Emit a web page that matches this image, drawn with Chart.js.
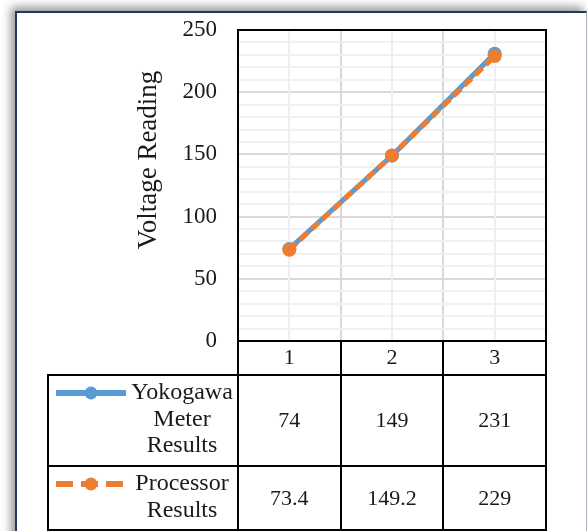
<!DOCTYPE html>
<html>
<head>
<meta charset="utf-8">
<script src="https://cdn.jsdelivr.net/npm/chart.js@4.4.1/dist/chart.umd.min.js"></script>
<style>
  html, body { margin: 0; padding: 0; background: #fff; width: 587px; height: 531px; overflow: hidden; }
  #frame {
    position: absolute; left: 15px; top: 11px; width: 572px; height: 540px;
    box-sizing: border-box; background: #fff;
    border: 2px solid #1f3864; border-right: 1px solid #a9b3c6;
    box-shadow: -4px -4px 9px rgba(0,0,0,0.42);
  }
  #c { position: absolute; left: 0; top: 0; }
</style>
</head>
<body>
<div id="frame"></div>
<canvas id="c" width="587" height="531"></canvas>
<script>
// Readings for three test points
const categories = ['1', '2', '3'];
const yokogawaValues = [74, 149, 231];
const processorValues = [73.4, 149.2, 229];
const seriesNames = ['Yokogawa Meter Results', 'Processor Results'];
const yTicks = [0, 50, 100, 150, 200, 250];
const yAxisTitle = 'Voltage Reading';

const FONT = '"Liberation Serif", "Times New Roman", serif';
const TEXT = '#1a1a1a';
const BLUE = '#5b9bd5';
const ORANGE = '#ed7d31';

function line(ctx, x1, y1, x2, y2) {
  ctx.beginPath(); ctx.moveTo(x1, y1); ctx.lineTo(x2, y2); ctx.stroke();
}

function wrap(ctx, text, maxW) {
  const words = text.split(' ');
  const lines = [];
  let cur = '';
  words.forEach(w => {
    const t = cur ? cur + ' ' + w : w;
    if (cur && ctx.measureText(t).width > maxW) { lines.push(cur); cur = w; }
    else cur = t;
  });
  if (cur) lines.push(cur);
  return lines;
}

// Fixed axis boxes so the plot area sits at a known place
function fixBox(size, horizontal) {
  return s => {
    if (horizontal) s.height = size; else s.width = size;
    s.paddingTop = 0; s.paddingBottom = 0; s.paddingLeft = 0; s.paddingRight = 0;
  };
}

// Light vertical lines through the category centres
const centreLines = {
  id: 'centreLines',
  beforeDatasetsDraw(chart) {
    const { ctx, chartArea: a, scales: { x } } = chart;
    ctx.save();
    ctx.strokeStyle = '#efefef';
    ctx.lineWidth = 2;
    categories.forEach((_, i) => {
      const px = Math.round(x.getPixelForValue(i));
      line(ctx, px, a.top, px, a.bottom);
    });
    ctx.restore();
  }
};

// Plot border, axis title and the data table under the plot
const dataTable = {
  id: 'dataTable',
  afterDraw(chart) {
    const { ctx, chartArea: a, scales: { x } } = chart;
    const centres = categories.map((_, i) => x.getPixelForValue(i));
    const edges = [a.left];
    for (let i = 0; i < centres.length - 1; i++) edges.push((centres[i] + centres[i + 1]) / 2);
    edges.push(a.right);

    const headerBottom = a.bottom + 34;
    const rowTops = [headerBottom, headerBottom + 91];
    const tableBottom = headerBottom + 155;
    const tableLeft = 48;

    ctx.save();
    ctx.strokeStyle = '#000';
    ctx.lineWidth = 2;
    ctx.strokeRect(a.left, a.top, a.width, a.height);
    edges.forEach(e => line(ctx, Math.round(e), a.bottom, Math.round(e), tableBottom));
    line(ctx, tableLeft, headerBottom, a.right, headerBottom);
    line(ctx, tableLeft, rowTops[1], a.right, rowTops[1]);
    line(ctx, tableLeft - 1, tableBottom, a.right + 1, tableBottom);
    line(ctx, tableLeft, headerBottom - 1, tableLeft, tableBottom + 1);

    // y axis title
    ctx.fillStyle = TEXT;
    ctx.font = '27px ' + FONT;
    ctx.textAlign = 'center';
    ctx.textBaseline = 'middle';
    ctx.save();
    ctx.translate(149, 160);
    ctx.rotate(-Math.PI / 2);
    ctx.fillText(yAxisTitle, 0, 0);
    ctx.restore();

    chart.data.datasets.forEach((ds, r) => {
      const top = rowTops[r];
      const bottom = r === 0 ? rowTops[1] : tableBottom;
      const keyY = top + 18;

      // legend key
      ctx.save();
      ctx.strokeStyle = ds.borderColor;
      ctx.lineWidth = ds.borderWidth + 1;
      ctx.setLineDash(ds.borderDash && ds.borderDash.length ? [17, 8] : []);
      ctx.lineDashOffset = 0;
      line(ctx, 56, keyY, 126, keyY);
      ctx.setLineDash([]);
      ctx.fillStyle = ds.pointBackgroundColor;
      ctx.beginPath(); ctx.arc(91, keyY, 6.5, 0, Math.PI * 2); ctx.fill();
      ctx.restore();

      // series name
      ctx.font = '24px ' + FONT;
      const lines = wrap(ctx, ds.label, 112);
      lines.forEach((t, k) => ctx.fillText(t, 182, keyY + k * 26.5));

      // values
      ctx.font = '22px ' + FONT;
      ds.data.forEach((v, i) => ctx.fillText(String(v), centres[i], (top + bottom) / 2 + 1));
    });
    ctx.restore();
  }
};

new Chart(document.getElementById('c'), {
  type: 'line',
  data: {
    labels: categories,
    datasets: [
      {
        label: seriesNames[0], data: yokogawaValues, order: 1,
        borderColor: BLUE, borderWidth: 5, tension: 0,
        pointRadius: 7, pointBackgroundColor: BLUE, pointBorderWidth: 0
      },
      {
        label: seriesNames[1], data: processorValues, order: 0,
        borderColor: ORANGE, borderWidth: 5, borderDash: [10, 5], tension: 0,
        pointRadius: 7, pointBackgroundColor: ORANGE, pointBorderWidth: 0
      }
    ]
  },
  options: {
    responsive: false,
    animation: false,
    layout: { padding: { left: 0, top: 30, right: 41, bottom: 0 } },
    plugins: { legend: { display: false }, tooltip: { enabled: false } },
    scales: {
      x: {
        offset: true,
        grid: { offset: true, color: '#d9d9d9', lineWidth: 2, drawTicks: false },
        border: { display: false },
        ticks: { color: TEXT, font: { family: FONT, size: 22 }, padding: 4 },
        afterFit: fixBox(190, true)
      },
      y: {
        min: 0, max: 250,
        grid: {
          color: c => (c.tick && yTicks.includes(c.tick.value)) ? '#d9d9d9' : '#f1f1f1',
          lineWidth: 2, drawTicks: false
        },
        border: { display: false },
        ticks: {
          stepSize: 10, autoSkip: false, padding: 21, color: TEXT,
          font: { family: FONT, size: 23 },
          callback: v => yTicks.includes(v) ? String(v) : ''
        },
        afterFit: fixBox(238, false)
      }
    }
  },
  plugins: [centreLines, dataTable]
});
</script>
</body>
</html>
